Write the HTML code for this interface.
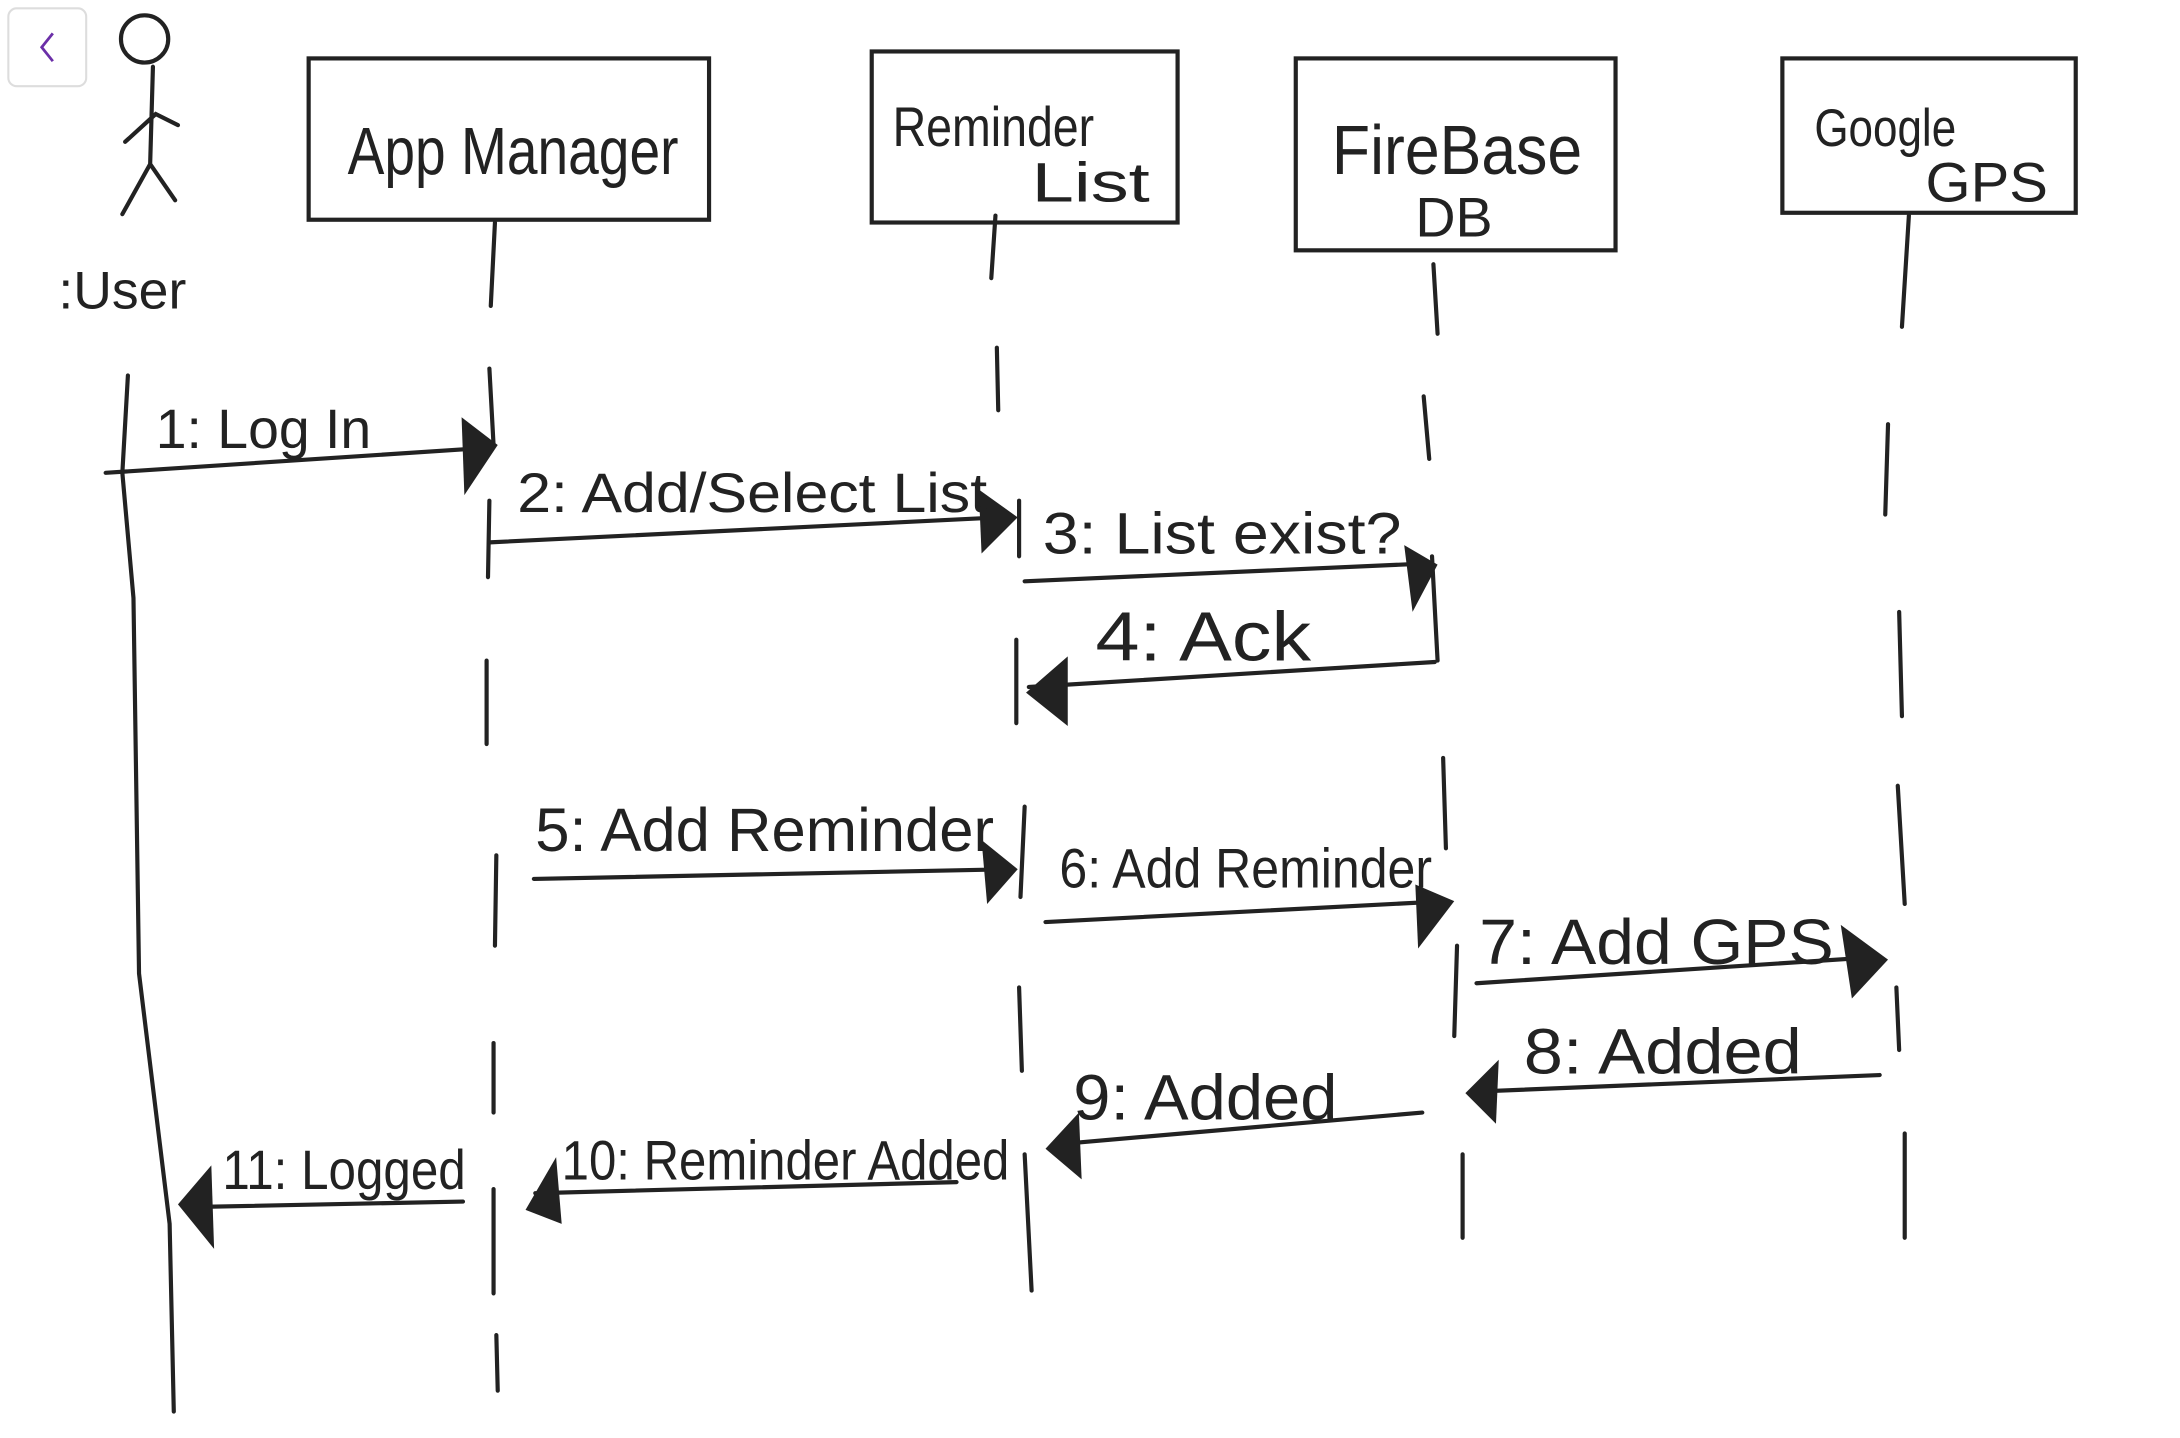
<!DOCTYPE html>
<html><head><meta charset="utf-8"><style>
html,body{margin:0;padding:0;background:#fff;width:2180px;height:1438px;overflow:hidden}
svg{display:block}
text{font-family:"Liberation Sans",sans-serif;fill:#222}
</style></head><body>
<svg width="2180" height="1438" viewBox="0 0 1568 1034" preserveAspectRatio="none">
<rect x="0" y="0" width="1568" height="1034" fill="#fff"/>
<rect x="6" y="6" width="56" height="56" rx="6" fill="#fff" stroke="#ddd" stroke-width="1.5"/>
<path d="M38 24 L30 34 L38 44" fill="none" stroke="#6b2fa8" stroke-width="2"/>
<g stroke="#222" stroke-width="3" fill="none" stroke-linecap="round">
<circle cx="104" cy="28" r="17"/>
<path d="M110 48 L108 118 M90 102 L112 82 L128 90 M108 118 L88 154 M108 118 L126 144"/>
<rect x="222" y="42" width="288" height="116"/>
<rect x="627" y="37" width="220" height="123"/>
<rect x="932" y="42" width="230" height="138"/>
<rect x="1282" y="42" width="211" height="111"/>
<path d="M92 270 L88 340 L96 430 L100 700 L122 880 L125 1015"/>
<path d="M356 160 L353 220 M352 265 L355 320 M352 360 L351 415 M350 475 L350 535 M357 615 L356 680 M355 750 L355 800 M355 855 L355 930 M357 960 L358 1000"/>
<path d="M716 155 L713 200 M717 250 L718 295 M733 360 L733 400 M731 460 L731 520 M737 580 L734 645 M733 710 L735 770 M737 830 L742 928"/>
<path d="M1031 190 L1034 240 M1024 285 L1028 330 M1030 400 L1034 475 M1038 545 L1040 610 M1048 680 L1046 745 M1052 830 L1052 890"/>
<path d="M1373 155 L1368 235 M1358 305 L1356 370 M1366 440 L1368 515 M1365 565 L1370 650 M1364 710 L1366 755 M1370 815 L1370 890"/>
<path d="M76 340 L350 322"/>
<path d="M352 390 L720 372"/>
<path d="M737 418 L1030 405"/>
<path d="M1032 476 L740 494"/>
<path d="M384 632 L728 625"/>
<path d="M752 663 L1040 648"/>
<path d="M1062 707 L1352 688"/>
<path d="M1352 773 L1060 785"/>
<path d="M1023 800 L770 822"/>
<path d="M688 850 L385 858"/>
<path d="M333 864 L135 868"/>
</g>
<g fill="#222">
<polygon points="332,300 358,320 334,356"/>
<polygon points="704,352 732,372 706,398"/>
<polygon points="1010,392 1034,406 1016,440"/>
<polygon points="768,472 738,498 768,522"/>
<polygon points="706,604 732,625 710,650"/>
<polygon points="1018,636 1046,648 1020,682"/>
<polygon points="1324,665 1358,690 1332,718"/>
<polygon points="1078,762 1054,786 1076,808"/>
<polygon points="776,800 752,826 778,848"/>
<polygon points="400,832 378,870 404,880"/>
<polygon points="152,838 128,866 154,898"/>
</g>
<g font-size="40">
<text x="42" y="222" font-size="38" textLength="92" lengthAdjust="spacingAndGlyphs">:User</text>
<text x="250" y="125" font-size="48" textLength="238" lengthAdjust="spacingAndGlyphs">App Manager</text>
<text x="642" y="105" font-size="40" textLength="145" lengthAdjust="spacingAndGlyphs">Reminder</text>
<text x="742" y="145" font-size="40" textLength="85" lengthAdjust="spacingAndGlyphs">List</text>
<text x="958" y="125" font-size="50" textLength="180" lengthAdjust="spacingAndGlyphs">FireBase</text>
<text x="1018" y="170" font-size="40">DB</text>
<text x="1305" y="105" font-size="38" textLength="102" lengthAdjust="spacingAndGlyphs">Google</text>
<text x="1385" y="145" font-size="40" textLength="88" lengthAdjust="spacingAndGlyphs">GPS</text>
<text x="112" y="322" font-size="40" textLength="155" lengthAdjust="spacingAndGlyphs">1: Log In</text>
<text x="372" y="368" font-size="40" textLength="338" lengthAdjust="spacingAndGlyphs">2: Add/Select List</text>
<text x="750" y="398" font-size="42" textLength="258" lengthAdjust="spacingAndGlyphs">3: List exist?</text>
<text x="788" y="475" font-size="50" textLength="155" lengthAdjust="spacingAndGlyphs">4: Ack</text>
<text x="385" y="612" font-size="44" textLength="330" lengthAdjust="spacingAndGlyphs">5: Add Reminder</text>
<text x="762" y="638" font-size="40" textLength="268" lengthAdjust="spacingAndGlyphs">6: Add Reminder</text>
<text x="1064" y="693" font-size="46" textLength="255" lengthAdjust="spacingAndGlyphs">7: Add GPS</text>
<text x="1096" y="772" font-size="46" textLength="200" lengthAdjust="spacingAndGlyphs">8: Added</text>
<text x="772" y="805" font-size="46" textLength="190" lengthAdjust="spacingAndGlyphs">9: Added</text>
<text x="404" y="848" font-size="40" textLength="322" lengthAdjust="spacingAndGlyphs">10: Reminder Added</text>
<text x="160" y="855" font-size="40" textLength="175" lengthAdjust="spacingAndGlyphs">11: Logged</text>
</g>
</svg>
</body></html>
